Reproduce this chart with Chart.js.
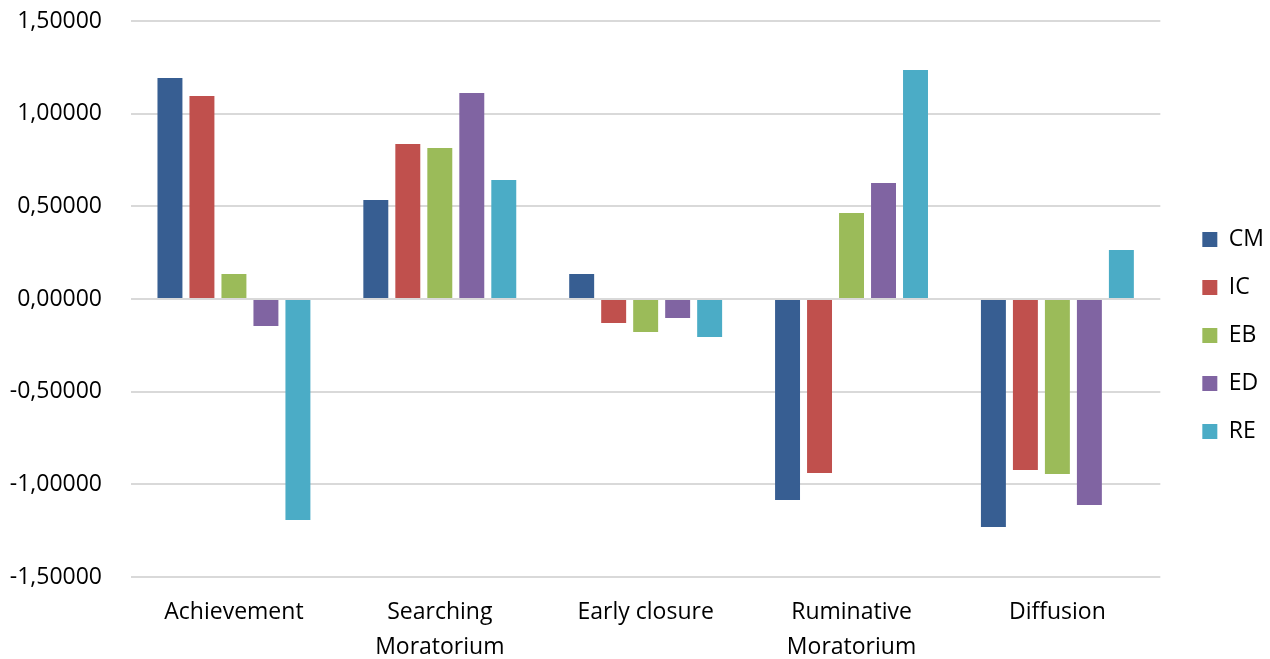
<!DOCTYPE html>
<html lang="en">
<head>
    <meta charset="UTF-8">
    <title>Identity statuses</title>
    <script src="https://cdn.jsdelivr.net/npm/chart.js"></script>
    <style>
        body {
            margin: 0;
            padding: 0;
            background-color: #ffffff;
        }
        .chart-container {
            width: 1270px;
            height: 659px;
        }
    </style>
</head>
<body>
    <div class="chart-container">
        <canvas id="myChart"></canvas>
    </div>

    <script>
        // Data
        const categories = ['Achievement', ['Searching', 'Moratorium'], 'Early closure', ['Ruminative', 'Moratorium'], 'Diffusion'];
        const seriesNames = ['CM', 'IC', 'EB', 'ED', 'RE'];
        const cmValues = [1.192, 0.534, 0.135, -1.085, -1.230];
        const icValues = [1.095, 0.836, -0.130, -0.939, -0.923];
        const ebValues = [0.135, 0.815, -0.178, 0.464, -0.944];
        const edValues = [-0.146, 1.112, -0.103, 0.626, -1.112];
        const reValues = [-1.192, 0.642, -0.205, 1.236, 0.264];
        const seriesColors = ['#375E92', '#C0504D', '#9BBB59', '#8064A2', '#4BACC6'];
        const yTicks = { min: -1.5, max: 1.5, step: 0.5 };

        const allValues = [cmValues, icValues, ebValues, edValues, reValues];
        const fontFamily = "'Open Sans', sans-serif";

        // nudge the legend a bit right/down so it sits like the original
        const legendNudge = {
            id: 'legendNudge',
            afterLayout(chart) {
                const lg = chart.legend;
                if (!lg) return;
                lg.left += 17;
                lg.right += 17;
                lg.top += 6;
                lg.bottom += 6;
            }
        };

        const ctx = document.getElementById('myChart').getContext('2d');

        const myChart = new Chart(ctx, {
            type: 'bar',
            data: {
                labels: categories,
                datasets: seriesNames.map((name, i) => ({
                    label: name,
                    data: allValues[i],
                    backgroundColor: seriesColors[i],
                    borderWidth: 0,
                    categoryPercentage: 0.777,
                    barPercentage: 0.78
                }))
            },
            options: {
                responsive: true,
                maintainAspectRatio: false,
                animation: false,
                layout: {
                    padding: { left: 0, right: 13, top: 0, bottom: 0 }
                },
                scales: {
                    x: {
                        grid: { display: false },
                        border: { display: false },
                        ticks: {
                            color: '#000000',
                            font: { family: fontFamily, size: 23, lineHeight: 1.52 },
                            padding: 10,
                            maxRotation: 0
                        },
                        afterFit: (scale) => {
                            scale.height = 82;
                            scale.paddingLeft = 0;
                            scale.paddingRight = 0;
                        }
                    },
                    y: {
                        min: yTicks.min,
                        max: yTicks.max,
                        ticks: {
                            stepSize: yTicks.step,
                            color: '#000000',
                            padding: 29,
                            font: { family: fontFamily, size: 23 },
                            callback: (v) => v.toFixed(5).replace('.', ',')
                        },
                        grid: {
                            color: '#d9d9d9',
                            lineWidth: 2,
                            drawTicks: false
                        },
                        border: { display: false },
                        afterFit: (scale) => {
                            scale.width = 131;
                            scale.paddingTop = 21;
                            scale.paddingBottom = 0;
                        }
                    }
                },
                plugins: {
                    legend: {
                        position: 'right',
                        labels: {
                            color: '#000000',
                            boxWidth: 15,
                            boxHeight: 15,
                            padding: 25,
                            font: { family: fontFamily, size: 23 }
                        }
                    },
                    tooltip: { enabled: false }
                }
            },
            plugins: [legendNudge]
        });
    </script>
</body>
</html>
